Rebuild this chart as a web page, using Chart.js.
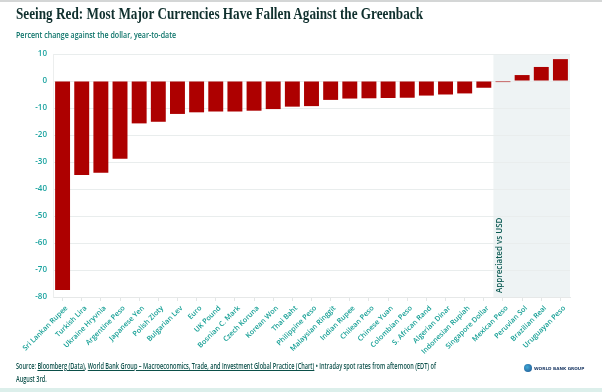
<!DOCTYPE html>
<html>
<head>
<meta charset="utf-8">
<script src="https://cdn.jsdelivr.net/npm/chart.js@4.4.0/dist/chart.umd.min.js"></script>
<style>
  html, body { margin: 0; padding: 0; background: #ffffff; }
  #wrap { position: relative; width: 602px; height: 392px; overflow: hidden; background: #fff; }
  #topline { position: absolute; left: 0; top: 0; width: 602px; height: 2px; background: #d4d6d6; }
  #botline { position: absolute; left: 0; top: 388px; width: 602px; height: 4px; background: #dcefeb; }
  #chartbox { position: absolute; left: 0; top: 0; width: 602px; height: 392px; }
  .txt { position: absolute; white-space: nowrap; transform-origin: 0 0; }
  #title { left: 16px; top: 4px; font-family: "Liberation Serif", serif; font-weight: bold; font-size: 16.5px; color: #10302e; }
  #subtitle { left: 16px; top: 29px; font-family: "Open Sans", sans-serif; font-weight: 600; font-size: 8.8px; color: #0a7268; }
  #source { left: 16px; top: 360px; font-family: "Open Sans", sans-serif; font-weight: 600; font-size: 8.4px; line-height: 12.5px; color: #0b4f49; }
  #source u { text-decoration: underline; }
  #logo { left: 524px; top: 364px; font-family: "DejaVu Sans", sans-serif; font-weight: bold; font-size: 4.2px; color: #1d3a66; display: flex; align-items: center; }
  #logo .c { display: inline-block; width: 8px; height: 8px; border-radius: 50%; background: radial-gradient(circle at 40% 40%, #3fa9d6, #1d4f8c); margin-right: 2px; }
</style>
</head>
<body>
<div id="wrap">
  <div id="topline"></div>
  <div id="chartbox"><canvas id="c" width="602" height="392"></canvas></div>
  <div id="title" class="txt">Seeing Red: Most Major Currencies Have Fallen Against the Greenback</div>
  <div id="subtitle" class="txt">Percent change against the dollar, year-to-date</div>
  <div id="source" class="txt"><span id="srcline">Source: <u>Bloomberg (Data)</u>, <u>World Bank Group – Macroeconomics, Trade, and Investment Global Practice (Chart)</u> • Intraday spot rates from afternoon (EDT) of</span><br>August 3rd.</div>
  <div id="logo" class="txt"><span class="c"></span>WORLD BANK GROUP</div>
  <div id="botline"></div>
</div>
<script>
const categories = ['Sri Lankan Rupee','Turkish Lira','Ukraine Hryvnia','Argentine Peso','Japanese Yen','Polish Zloty','Bulgarian Lev','Euro','UK Pound','Bosnian C. Mark','Czech Koruna','Korean Won','Thai Baht','Philippine Peso','Malaysian Ringgit','Indian Rupee','Chilean Peso','Chinese Yuan','Colombian Peso','S. African Rand','Algerian Dinar','Indonesian Rupiah','Singapore Dollar','Mexican Peso','Peruvian Sol','Brazilian Real','Uruguayan Peso'];
const changeVsUSD = [-77.4,-34.8,-34.0,-28.8,-15.7,-15.1,-12.2,-11.6,-11.3,-11.3,-11.0,-10.4,-9.5,-9.3,-7.0,-6.5,-6.4,-6.3,-6.2,-5.4,-5.0,-4.6,-2.5,-0.4,2.2,5.2,8.1];
const yTicks = [10,0,-10,-20,-30,-40,-50,-60,-70,-80];
const appreciatedFrom = 'Mexican Peso';
const shadeLabel = 'Appreciated vs USD';

// squeeze header/footer texts horizontally to the widths measured in the reference
function squeeze(id, measureId, target) {
  const el = document.getElementById(id);
  const m = document.getElementById(measureId);
  const w = m.getBoundingClientRect().width;
  el.style.transform = 'scaleX(' + (target / w) + ')';
}
squeeze('title', 'title', 407);
squeeze('subtitle', 'subtitle', 160);
squeeze('source', 'srcline', 420);

const shadePlugin = {
  id: 'shade',
  beforeDraw(chart) {
    const {ctx, chartArea, scales} = chart;
    const idx = categories.indexOf(appreciatedFrom);
    const x0 = (scales.x.getPixelForValue(idx - 1) + scales.x.getPixelForValue(idx)) / 2;
    ctx.save();
    ctx.fillStyle = '#eef3f4';
    ctx.fillRect(x0, chartArea.top, chartArea.right - x0, chartArea.bottom - chartArea.top);
    ctx.restore();
  },
  afterDatasetsDraw(chart) {
    const {ctx, chartArea, scales} = chart;
    const idx = categories.indexOf(appreciatedFrom);
    const x0 = (scales.x.getPixelForValue(idx - 1) + scales.x.getPixelForValue(idx)) / 2;
    ctx.save();
    ctx.translate(x0 + 6, chartArea.bottom - 4);
    ctx.rotate(-Math.PI / 2);
    ctx.font = '600 8px "Open Sans", sans-serif';
    ctx.fillStyle = '#0b5a52';
    ctx.textAlign = 'left';
    ctx.textBaseline = 'middle';
    ctx.fillText(shadeLabel, 0, 0);
    ctx.restore();
  }
};

new Chart(document.getElementById('c'), {
  type: 'bar',
  data: {
    labels: categories,
    datasets: [{
      data: changeVsUSD,
      backgroundColor: '#ad0000',
      borderWidth: 0,
      categoryPercentage: 1.0,
      barPercentage: 0.78
    }]
  },
  options: {
    responsive: false,
    animation: false,
    events: [],
    layout: { padding: { top: 54, left: 0, right: 32, bottom: 0 } },
    plugins: { legend: { display: false }, tooltip: { enabled: false }, title: { display: false } },
    scales: {
      x: {
        offset: true,
        grid: { display: true, drawOnChartArea: false, drawTicks: true, tickLength: 4, color: '#e3e6e6', offset: false },
        border: { display: true, color: '#e6e8e8', width: 1 },
        ticks: {
          autoSkip: false, maxRotation: 45, minRotation: 45, padding: 3, labelOffset: 4,
          color: '#17a096', font: { family: '"Open Sans", sans-serif', size: 7.2, weight: '600' }
        },
        afterFit(scale) { scale.height = 95; }
      },
      y: {
        min: -80, max: 10,
        afterBuildTicks(scale) { scale.ticks = yTicks.map(v => ({ value: v })); },
        grid: { color: '#e9eded', lineWidth: 1, drawTicks: false },
        border: { display: true, color: '#eceeee' },
        ticks: {
          padding: 6,
          color: '#1ba3a0', font: { family: '"Open Sans", sans-serif', size: 8, weight: '600' }
        },
        afterFit(scale) { scale.width = 53; }
      }
    }
  },
  plugins: [shadePlugin]
});
</script>
</body>
</html>
